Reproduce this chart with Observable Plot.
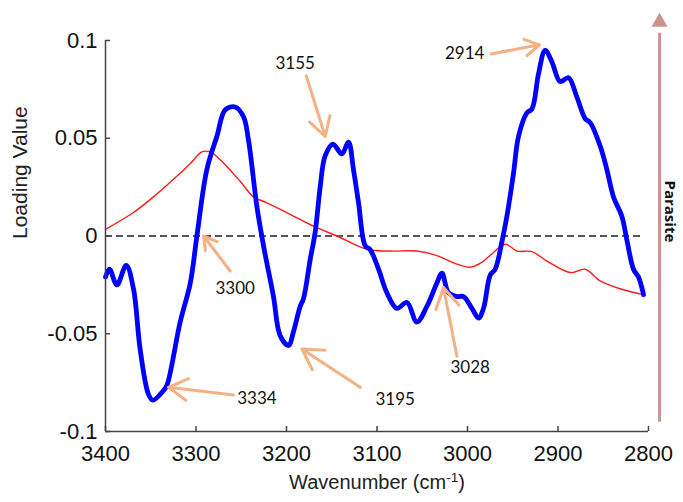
<!DOCTYPE html>
<html>
<head>
<meta charset="utf-8">
<script src="https://cdn.jsdelivr.net/npm/d3@7"></script>
<script src="https://cdn.jsdelivr.net/npm/@observablehq/plot@0.6"></script>
<style>
  html, body { margin: 0; padding: 0; background: #fff; }
</style>
</head>
<body>
<div id="chart"></div>
<script>
// Wavenumbers (cm-1) and loading values of the thick blue loading
const blueX = [3400, 3395.6, 3387.4, 3377.1, 3369.1, 3361.7, 3352.5, 3347.6, 3335.9, 3332.2, 3317.5, 3306.3, 3299, 3288, 3276.9, 3267.7, 3256.7, 3247.5, 3242, 3232.7, 3225.4, 3214.4, 3207, 3197.8, 3192.3, 3184.9, 3181.2, 3173.8, 3168.3, 3162.8, 3157.3, 3148.7, 3138.8, 3131.5, 3126, 3120.4, 3113, 3107.5, 3098.3, 3089.1, 3078, 3066.9, 3055.9, 3044.9, 3033.8, 3028.3, 3021, 3011.7, 3004.4, 2995.1, 2987.8, 2982.3, 2974.9, 2969.4, 2962, 2956.5, 2949.2, 2943.6, 2934.4, 2928.8, 2921.5, 2914.2, 2906.7, 2897.6, 2888.4, 2879.1, 2869.9, 2864.4, 2853.4, 2846, 2838.7, 2829.4, 2823.9, 2816.6, 2811, 2805.5];
const blueY = [-0.021, -0.017, -0.025, -0.015, -0.027, -0.058, -0.081, -0.084, -0.079, -0.0765, -0.044, -0.024, 0, 0.034, 0.051, 0.0646, 0.066, 0.061, 0.049, 0.015, -0.005, -0.031, -0.051, -0.056, -0.049, -0.036, -0.032, -0.012, 0.002, 0.025, 0.041, 0.047, 0.042, 0.048, 0.034, 0.017, -0.005, -0.007, -0.017, -0.029, -0.037, -0.034, -0.044, -0.036, -0.024, -0.019, -0.029, -0.031, -0.031, -0.037, -0.042, -0.037, -0.020, -0.017, -0.003, 0.010, 0.032, 0.051, 0.063, 0.065, 0.083, 0.095, 0.089, 0.079, 0.081, 0.071, 0.060, 0.058, 0.046, 0.034, 0.020, 0.010, -0.002, -0.017, -0.021, -0.030];

// Thin red loading
const redX = [3400, 3369.1, 3347, 3324.9, 3306.4, 3293.5, 3284.3, 3273.3, 3251.2, 3236.5, 3221.7, 3199.6, 3170.2, 3144.3, 3111.2, 3085.4, 3055.9, 3033.8, 3011.7, 2997, 2986, 2975, 2958.3, 2945.4, 2928.8, 2912.3, 2886.5, 2869.9, 2853.4, 2831.3, 2805.5];
const redY = [0.0034, 0.012, 0.020, 0.029, 0.037, 0.043, 0.043, 0.039, 0.028, 0.020, 0.017, 0.012, 0.005, 0, -0.0068, -0.0077, -0.0077, -0.010, -0.0144, -0.016, -0.014, -0.010, -0.0042, -0.0077, -0.008, -0.0128, -0.0187, -0.017, -0.023, -0.027, -0.030];

// Ticks
const xTicks = [3400, 3300, 3200, 3100, 3000, 2900, 2800];
const yTicks = [-0.1, -0.05, 0, 0.05, 0.1];
const zeroLineEnd = 2805.5;

// Peak annotations: label, text position, arrow tail and head
const annoLabels = ["3155", "2914", "3300", "3334", "3195", "3028"];
const annoTextX = [3190.4, 3003.1, 3256.7, 3232.7, 3079.9, 2997];
const annoTextY = [0.0881, 0.0935, -0.0267, -0.0833, -0.0837, -0.0675];
const annoTailX = [3178.2, 2974.1, 3262.2, 3258.6, 3118.6, 3011.7];
const annoTailY = [0.082, 0.0931, -0.0179, -0.0813, -0.0774, -0.0615];
const annoHeadX = [3157.2, 2920.4, 3291.7, 3330.4, 3183, 3026.5];
const annoHeadY = [0.0509, 0.0978, 0.0, -0.0774, -0.0578, -0.0263];

// Side arrow "Parasite"
const sideLabel = "Parasite";
const sideX = 2787.8;
const sideY1 = -0.095;
const sideY2 = 0.104;
const sideTipY = 0.1094;
const sideLabelY = 0.0126;
const sideLabelX = 2776;

const blue = blueX.map((x, i) => ({x, y: blueY[i]}));
const red = redX.map((x, i) => ({x, y: redY[i]}));
const annos = annoLabels.map((t, i) => ({
  t, tx: annoTextX[i], ty: annoTextY[i],
  x1: annoTailX[i], y1: annoTailY[i], x2: annoHeadX[i], y2: annoHeadY[i]
}));

const axisColor = "#444";
const annoColor = "#f4b183";
const sideColor = "#c99490";

const chart = Plot.plot({
  width: 683,
  height: 502,
  marginLeft: 105,
  marginRight: 35,
  marginTop: 40,
  marginBottom: 71,
  style: {fontFamily: "'Liberation Sans', Arial, sans-serif", background: "#fff", color: "#111"},
  x: {domain: [3400, 2800]},
  y: {domain: [-0.1, 0.1]},
  marks: [
    Plot.ruleY([0], {x1: 3400, x2: zeroLineEnd, stroke: "#555", strokeWidth: 2, strokeDasharray: "7,4"}),
    Plot.line(red, {x: "x", y: "y", stroke: "#ff1a1a", strokeWidth: 1.4, curve: "catmull-rom"}),
    Plot.line(blue, {x: "x", y: "y", stroke: "#0000ff", strokeWidth: 4.8, strokeLinejoin: "round", strokeLinecap: "round", curve: "catmull-rom"}),
    Plot.ruleX([3400], {stroke: axisColor, strokeWidth: 1.5}),
    Plot.ruleY([-0.1], {stroke: axisColor, strokeWidth: 1.5}),
    Plot.axisX({ticks: xTicks, tickFormat: d => String(d), tickSize: -5, tickPadding: 19, fontSize: 22, stroke: axisColor, strokeWidth: 1.5, label: null}),
    Plot.axisY({ticks: yTicks, tickFormat: d => String(d), tickSize: -5, tickPadding: 13, fontSize: 22, stroke: axisColor, strokeWidth: 1.5, label: null}),
    Plot.text(["Loading Value"], {frameAnchor: "left", dx: -85, dy: 3, rotate: -90, fontSize: 21, fill: "#222"}),
    Plot.text(["Wavenumber (cm-1)"], {frameAnchor: "bottom", dy: 57, fontSize: 20, fill: "#222"}),
    Plot.arrow(annos, {x1: "x1", y1: "y1", x2: "x2", y2: "y2", stroke: annoColor, strokeWidth: 3, headLength: 14, bend: false}),
    Plot.text(annos, {x: "tx", y: "ty", text: "t", fontFamily: "Lato, 'Open Sans', sans-serif", fontSize: 17, fill: "#111"}),
    Plot.link([{x: sideX, y1: sideY1, y2: sideY2}], {x1: "x", x2: "x", y1: "y1", y2: "y2", stroke: sideColor, strokeWidth: 3}),
    Plot.dot([{x: sideX, y: sideTipY}], {x: "x", y: "y", symbol: "triangle", r: 6, fill: sideColor, stroke: "none"}),
    Plot.text([sideLabel], {x: sideLabelX, y: sideLabelY, rotate: 90, fontWeight: "bold", fontFamily: "'Open Sans', 'Noto Sans', sans-serif", fontSize: 15, fill: "#111"})
  ]
});

document.getElementById("chart").appendChild(chart);

// superscript on the axis label
d3.select(chart).selectAll("text").each(function() {
  if (this.textContent === "Wavenumber (cm-1)") {
    const t = d3.select(this);
    t.text("Wavenumber (cm");
    t.append("tspan").attr("dy", "-0.45em").attr("font-size", "0.68em").text("-1");
    t.append("tspan").attr("dy", "0.31em").text(")");
  }
});
</script>
</body>
</html>
